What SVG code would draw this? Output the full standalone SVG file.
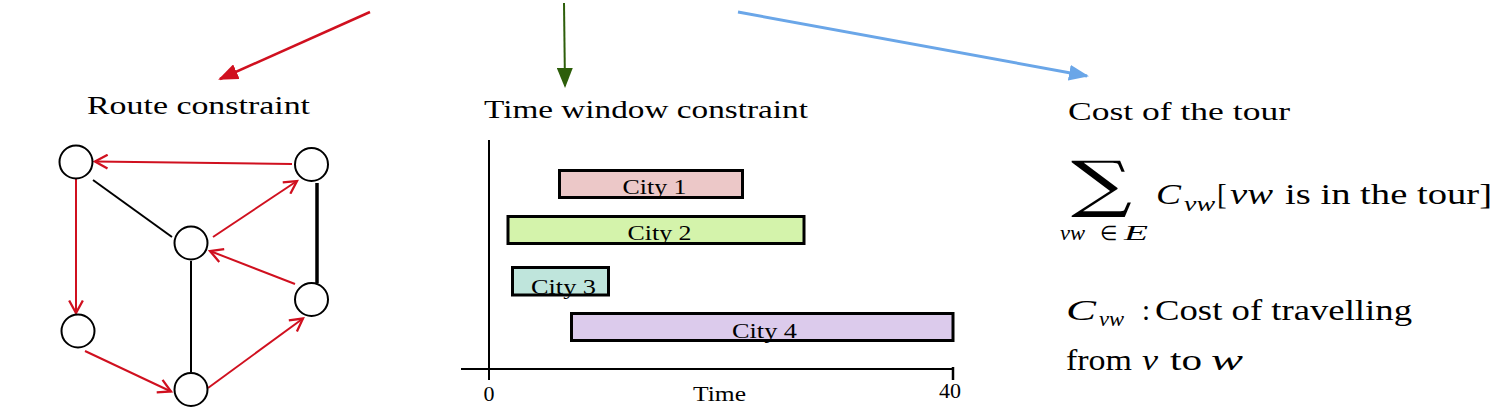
<svg xmlns="http://www.w3.org/2000/svg" width="1500" height="416" viewBox="0 0 1500 416">
<style>
.t{font-family:"Liberation Serif","Times New Roman",serif;fill:#000}
.i{font-style:italic}
.node{fill:#fff;stroke:#000;stroke-width:2}
.red{stroke:#d0101f;stroke-width:2;fill:none}
.blk{stroke:#000;stroke-width:2;fill:none}
.bar{stroke:#000;stroke-width:3}
</style>
<defs>
<marker id="chev" markerUnits="userSpaceOnUse" markerWidth="16" markerHeight="16" refX="12" refY="6.5" orient="auto" viewBox="0 0 14 13">
<path d="M1,0.5 L12,6.5 L1,12.5" fill="none" stroke="#d0101f" stroke-width="2"/>
</marker>
<marker id="triR" markerUnits="userSpaceOnUse" markerWidth="20" markerHeight="16" refX="18" refY="8" orient="auto" viewBox="0 0 20 16">
<path d="M0,0 L20,8 L0,16 Z" fill="#d0101f"/>
</marker>
<marker id="triG" markerUnits="userSpaceOnUse" markerWidth="20" markerHeight="16" refX="18" refY="8" orient="auto" viewBox="0 0 20 16">
<path d="M0,0 L20,8 L0,16 Z" fill="#2d5e0a"/>
</marker>
<marker id="triB" markerUnits="userSpaceOnUse" markerWidth="20" markerHeight="16" refX="18" refY="8" orient="auto" viewBox="0 0 20 16">
<path d="M0,0 L20,8 L0,16 Z" fill="#6aa6e8"/>
</marker>
</defs>

<g id="top-arrows">
<line x1="370" y1="12" x2="220" y2="79" stroke="#d0101f" stroke-width="2.5" marker-end="url(#triR)"/>
<line x1="564" y1="3" x2="565" y2="86" stroke="#2d5e0a" stroke-width="2" marker-end="url(#triG)"/>
<line x1="738" y1="12" x2="1087" y2="76" stroke="#6aa6e8" stroke-width="3" marker-end="url(#triB)"/>
</g>

<g id="headings">
<text class="t" x="87" y="114" font-size="25" textLength="223" lengthAdjust="spacingAndGlyphs">Route constraint</text>
<text class="t" x="484" y="118" font-size="25" textLength="324" lengthAdjust="spacingAndGlyphs">Time window constraint</text>
<text class="t" x="1068" y="120" font-size="25" textLength="222" lengthAdjust="spacingAndGlyphs">Cost of the tour</text>
</g>

<g id="connectors">
<line class="blk" x1="93" y1="180" x2="172" y2="237"/>
<line x1="317" y1="183" x2="317" y2="283" stroke="#000" stroke-width="3.5"/>
<line class="blk" x1="191" y1="261" x2="191" y2="372"/>
<line class="red" x1="292" y1="164" x2="95" y2="161.5" marker-end="url(#chev)"/>
<line class="red" x1="213" y1="237" x2="297" y2="181" marker-end="url(#chev)"/>
<line class="red" x1="295" y1="284" x2="210" y2="251" marker-end="url(#chev)"/>
<line class="red" x1="76" y1="179" x2="76" y2="313" marker-end="url(#chev)"/>
<line class="red" x1="85" y1="351" x2="171" y2="391.5" marker-end="url(#chev)"/>
<line class="red" x1="208" y1="388" x2="303" y2="318.5" marker-end="url(#chev)"/>
</g>

<g id="nodeA"><circle class="node" cx="76" cy="162" r="16.5"/></g>
<g id="nodeB"><circle class="node" cx="311.5" cy="164.5" r="16.5"/></g>
<g id="nodeC"><circle class="node" cx="191" cy="243" r="16.5"/></g>
<g id="nodeD"><circle class="node" cx="311.5" cy="299.5" r="16.5"/></g>
<g id="nodeE"><circle class="node" cx="78" cy="331" r="16.5"/></g>
<g id="nodeF"><circle class="node" cx="191" cy="389.5" r="16.5"/></g>

<g id="time-chart">
<line x1="489" y1="140" x2="489" y2="380" stroke="#000" stroke-width="2"/>
<line x1="461" y1="369" x2="953" y2="369" stroke="#000" stroke-width="2"/>
<line x1="953" y1="367" x2="953" y2="380" stroke="#000" stroke-width="2.5"/>
<g id="city1"><rect class="bar" x="559.5" y="170.5" width="183" height="27" fill="#ecc8c8"/>
<text class="t" x="622.5" y="194" font-size="21" textLength="64" lengthAdjust="spacingAndGlyphs">City 1</text></g>
<g id="city2"><rect class="bar" x="508" y="216.5" width="296" height="27" fill="#d4f3ab"/>
<text class="t" x="627.5" y="240" font-size="21" textLength="64" lengthAdjust="spacingAndGlyphs">City 2</text></g>
<g id="city3"><rect class="bar" x="512.5" y="267.5" width="96" height="27.5" fill="#bfe5dc"/>
<text class="t" x="531" y="293.5" font-size="21" textLength="65" lengthAdjust="spacingAndGlyphs">City 3</text></g>
<g id="city4"><rect class="bar" x="571.5" y="313.5" width="381.5" height="27" fill="#dccbec"/>
<text class="t" x="732" y="337.5" font-size="21" textLength="65" lengthAdjust="spacingAndGlyphs">City 4</text></g>
<text class="t" x="489" y="401" font-size="22" text-anchor="middle">0</text>
<text class="t" x="693" y="401" font-size="20" textLength="53" lengthAdjust="spacingAndGlyphs">Time</text>
<text class="t" x="950" y="398" font-size="22" text-anchor="middle">40</text>
</g>

<g id="cost-formula">
<text x="1071" y="205" font-family="DejaVu Serif,serif" font-size="62" textLength="61" lengthAdjust="spacingAndGlyphs">∑</text>
<text class="t i" x="1156" y="204" font-size="29" textLength="25" lengthAdjust="spacingAndGlyphs">C</text>
<text class="t i" x="1184" y="211" font-size="20" textLength="31" lengthAdjust="spacingAndGlyphs">vw</text>
<text class="t" x="1217" y="204" font-size="29">[</text>
<text class="t i" x="1230" y="204" font-size="29" textLength="43" lengthAdjust="spacingAndGlyphs">vw</text>
<text class="t" x="1285" y="204" font-size="29" textLength="207" lengthAdjust="spacingAndGlyphs">is in the tour]</text>
<text class="t i" x="1060" y="240" font-size="20" textLength="25" lengthAdjust="spacingAndGlyphs">vw</text>
<text class="t" x="1100" y="240" font-size="20">∈</text>
<text class="t i" x="1124" y="240" font-size="20" textLength="24" lengthAdjust="spacingAndGlyphs">E</text>
<text class="t i" x="1066" y="320" font-size="30" textLength="30" lengthAdjust="spacingAndGlyphs">C</text>
<text class="t i" x="1099" y="326" font-size="20" textLength="25" lengthAdjust="spacingAndGlyphs">vw</text>
<text class="t" x="1142" y="320" font-size="29">:</text>
<text class="t" x="1155" y="320" font-size="29" textLength="257" lengthAdjust="spacingAndGlyphs">Cost of travelling</text>
<text class="t" x="1066" y="370" font-size="29" textLength="66" lengthAdjust="spacingAndGlyphs">from</text>
<text class="t i" x="1142" y="370" font-size="29" textLength="16" lengthAdjust="spacingAndGlyphs">v</text>
<text class="t" x="1170" y="370" font-size="29" textLength="32" lengthAdjust="spacingAndGlyphs">to</text>
<text class="t i" x="1211" y="370" font-size="29" textLength="32" lengthAdjust="spacingAndGlyphs">w</text>
</g>
</svg>
